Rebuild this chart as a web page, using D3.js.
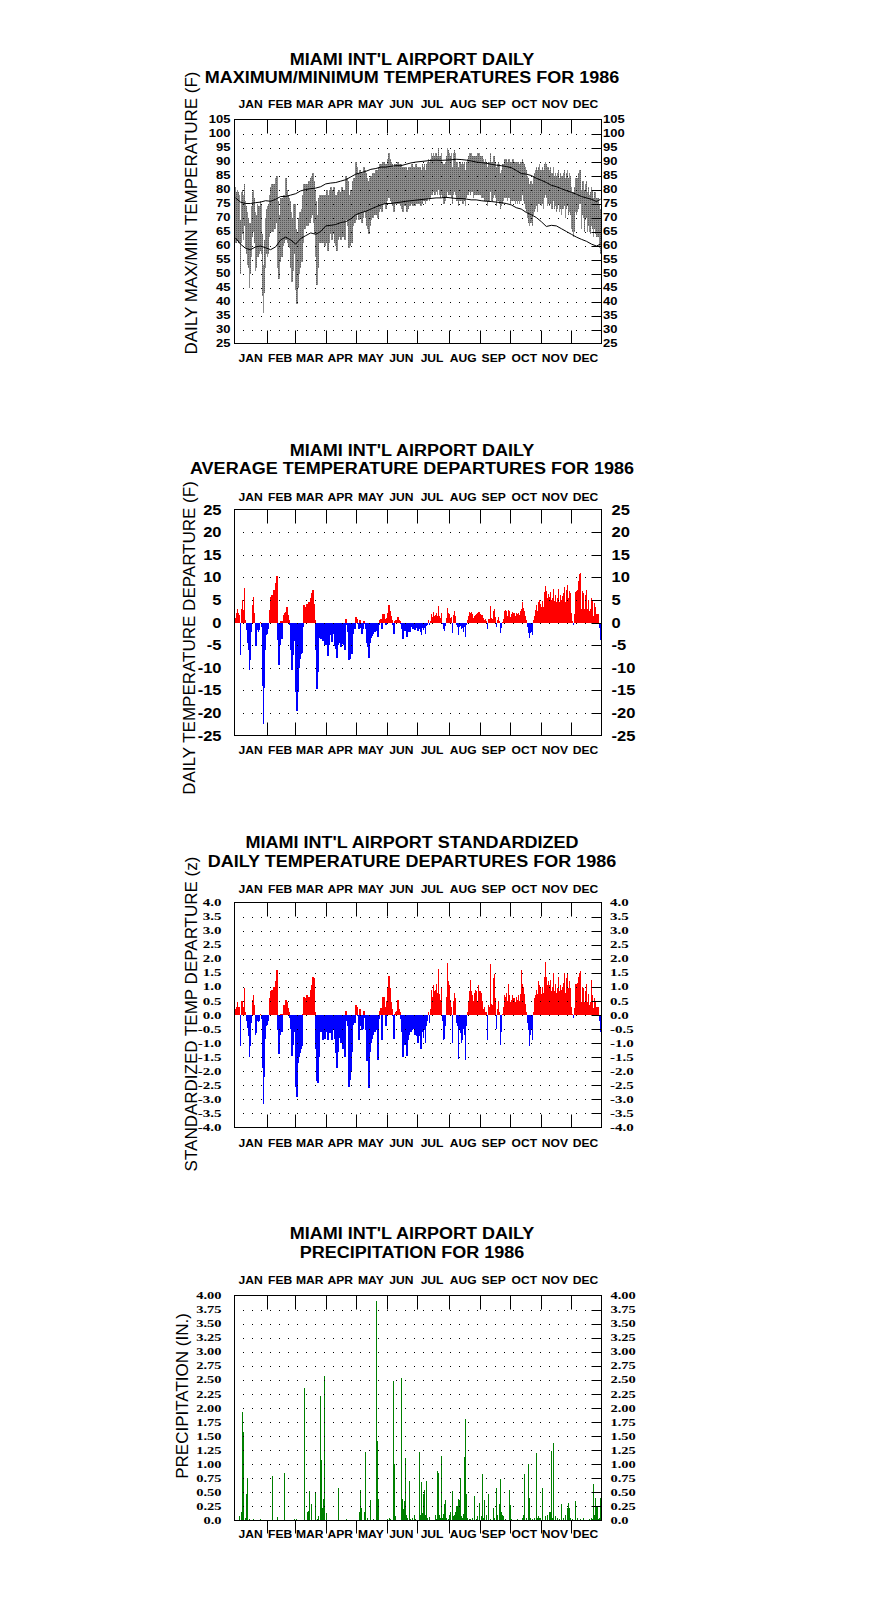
<!DOCTYPE html>
<html>
<head>
<meta charset="utf-8">
<title>Miami Int'l Airport 1986</title>
<script src="https://cdnjs.cloudflare.com/ajax/libs/d3/7.8.5/d3.min.js"></script>
<style>
  body { margin: 0; background: #fff; }
  svg text { fill: #000; }
</style>
</head>
<body>
<svg id="chart" width="876" height="1606"></svg>
<script>
const months = ['JAN', 'FEB', 'MAR', 'APR', 'MAY', 'JUN', 'JUL', 'AUG', 'SEP', 'OCT', 'NOV', 'DEC'];
const monthDays = [31, 28, 31, 30, 31, 30, 31, 31, 30, 31, 30, 31];

// daily max / min temperature (F)
const tempMax = [
  81,79,80,79,78,69,79,80,78,82,76,74,72,70,68,68,74,79,80,77,72,71,75,74,74,76,75,64,53,62,70,
  73,74,75,78,81,82,80,82,82,84,85,76,68,71,77,73,77,78,78,84,80,78,77,76,72,68,70,75,
  75,66,62,65,70,72,72,73,78,82,82,81,82,80,83,82,84,85,86,83,80,76,69,71,77,78,77,78,77,78,76,
  78,80,76,78,80,81,79,80,81,78,78,76,79,80,79,79,81,80,80,79,85,84,83,78,78,80,79,83,84,84,
  90,88,86,85,87,86,85,86,88,87,86,84,83,81,84,85,85,86,86,86,87,87,85,88,89,89,87,90,90,89,88,
  89,91,93,91,90,89,88,86,89,89,89,90,89,89,89,88,85,88,87,88,86,87,88,87,88,89,88,88,88,89,
  88,88,88,88,87,89,88,89,87,89,90,91,90,91,93,92,93,92,93,93,92,95,92,92,93,90,89,89,90,92,95,
  94,93,92,93,88,93,94,93,90,90,88,90,90,89,90,89,90,87,90,91,92,93,93,93,92,92,92,92,92,93,93,
  93,92,92,92,91,90,91,90,88,90,90,93,90,90,92,92,90,88,89,90,89,86,87,89,89,91,91,91,90,91,
  91,90,90,91,91,90,90,90,90,90,89,90,90,91,90,89,88,87,85,84,82,83,83,82,85,86,87,88,87,88,89,
  87,87,88,87,89,90,89,88,88,87,88,86,86,88,85,86,85,86,87,84,86,85,85,86,87,84,86,87,84,86,
  85,81,79,79,81,84,84,84,86,87,87,80,83,83,80,82,83,79,81,78,79,81,80,77,79,79,77,77,77,75,73
];
const tempMin = [
  61,61,62,61,61,50,61,64,62,67,59,57,53,52,45,50,56,63,65,61,51,52,56,56,57,58,57,42,36,43,52,
  57,56,57,63,65,65,65,67,66,68,71,52,48,54,59,56,60,61,62,62,63,61,60,59,52,47,51,57,
  57,44,39,45,50,52,54,54,61,67,66,67,68,67,68,68,70,71,71,68,64,56,46,52,61,63,61,62,61,62,60,
  61,63,58,61,64,65,62,64,65,61,60,58,62,63,63,62,66,63,63,62,70,69,67,59,60,61,61,67,69,68,
  69,71,71,69,72,70,68,70,72,72,70,67,66,64,67,69,70,70,71,71,71,72,70,72,73,74,72,75,75,75,73,
  76,77,78,77,76,75,74,72,75,75,75,76,75,75,74,73,72,74,74,74,72,73,74,74,75,76,74,75,74,75,
  76,75,75,74,74,75,76,76,75,76,76,77,76,77,78,78,79,78,78,79,78,80,78,77,78,77,75,75,76,77,79,
  78,78,78,77,75,78,79,78,76,76,74,76,76,76,75,75,76,74,77,78,78,79,78,79,79,77,78,78,78,78,78,
  78,78,77,77,77,76,76,76,74,76,76,79,76,76,77,78,77,74,76,76,75,73,74,75,76,77,77,77,76,77,
  77,75,76,76,76,76,75,76,75,76,75,76,76,78,76,75,73,72,70,68,67,68,68,67,71,72,73,74,72,75,75,
  75,74,75,73,77,78,77,74,75,74,75,73,73,76,73,74,72,73,75,72,73,71,73,73,74,70,73,74,71,72,
  71,66,65,63,65,72,71,72,73,75,75,66,71,70,65,69,70,65,67,65,64,67,66,63,66,64,63,63,63,59,57
];

// normal max / min, read every 5 days
const normDay = [0,5,10,15,20,25,30,35,40,45,50,55,60,65,70,75,80,85,90,95,
  100,105,110,115,120,125,130,135,140,145,150,155,160,165,170,175,180,185,190,195,
  200,205,210,215,220,225,230,235,240,245,250,255,260,265,270,275,280,285,290,295,
  300,305,310,315,320,325,330,335,340,345,350,355,360,364];
const normMax = [77,75.5,75,75,75.3,75.5,76,75.8,76.5,77.5,77.5,78,78.5,79.5,80,80.3,80.5,81,82,82.3,
  82.5,83,83.5,84.5,85.5,86,86.5,87.2,87.5,88,88,88.3,88.5,88.5,89,89.5,89.8,90,90.2,90.4,
  90.5,90.4,90.5,90.6,90.8,90.7,90.5,90.2,89.8,89.6,89.4,89,88.7,88.5,88.2,87.8,86.8,85.7,85.5,85,
  84,83.3,82.5,81.5,81,80.3,79.6,79,78.3,77.5,77,76.5,75.7,76.5];
const normMin = [62.7,60.5,59,58.5,59.5,59.8,59.2,58.5,59.5,62,63,62,60.5,62.5,63.5,64.5,64,65,67,67.2,
  67.5,68.2,68.5,69.5,71,71.7,72.2,73,73.8,74.5,75,75,75.3,75.5,75.8,76,76.2,76.4,76.6,76.8,
  77,77,77.2,77,76.8,76.8,76.6,76.3,76.3,76,75.8,75.7,75.5,75.3,75,74.5,73.5,73,71.8,71,
  70,68.5,66.8,67.2,67,66,65,64,63,62.2,61.5,60.5,59.8,60.5];

// daily average temperature departure (F)
const departure = [
  1,2,3,2,1.7,-7.3,3,5,2.8,7.7,0.5,-1.6,-4.5,-6,-10.6,-8.2,-2.2,3.9,5.7,2,-5.3,-5.3,-1.6,-2,-1.6,0.2,-0.9,-14,-22.4,-14.5,-6,
  -2.7,-2.5,-1.5,2.8,5.7,6.1,5,7.2,6.5,8.7,10.3,-3.8,-9.3,-5,0.3,-3.7,0.3,1.7,2,2.4,3.5,1.7,0.5,-0.5,-6,-10.4,-7.3,-2,
  -4,-15.3,-19.6,-15.3,-10,-8,-7,-6.8,-1,3.8,3.5,3.2,4,2.5,4.5,4,5.5,6.5,7.3,4,0.5,-6,-14.8,-11,-3.5,-2.5,-3.7,-2.8,-4,-3,-5,
  -5,-3,-7.5,-5,-2.8,-1.5,-4.3,-2.5,-2,-5.3,-5.8,-7.8,-5,-4,-4.5,-5.5,-2.5,-4.8,-5,-6,0.8,-0.5,-2.2,-8.2,-8,-6.5,-7,-2.5,-1,-1.5,
  1.2,0.8,-0.3,-1.5,0.5,-1.2,-2.5,-1.5,0.4,-0.3,-1.5,-4.5,-5.5,-7.8,-4.5,-3.5,-3,-2.5,-2,-2.2,-1.8,-1.5,-3.3,-0.5,0.5,0.8,-1.5,1.8,1.8,0.8,-0.5,
  1,2.2,3.9,2.5,1.5,0.5,-0.5,-2.5,0.3,0.5,0.3,1.2,0.5,0.3,-0.3,-1.5,-3.7,-1.2,-1.8,-1.2,-3.3,-2.2,-1.5,-2,-1,-0.3,-1.5,-1.2,-1.6,-1,
  -1.3,-1.8,-1.5,-2,-2.7,-1.3,-1.6,-1.2,-2.5,-0.8,-0.5,0.5,-0.5,0.3,1.8,1.2,2.3,1.5,1.6,2.2,1.5,3.6,1.5,1,2,-0.3,-1.5,-1.8,-0.8,1,3.2,
  2.2,1.8,1,1.3,-2.3,1.7,2.5,1.5,-0.6,-1,-2.8,-1,-0.7,-1.5,-1.3,-2,-1,-3.3,-0.5,0.5,1.5,2.4,2,2.4,1.8,1,1.5,1.6,1.8,2.2,2.4,
  2.4,1.8,1.6,1.7,1,0.5,0.7,0.3,-1.5,0.8,0.7,3.6,1,0.8,2.6,3,1.3,-1,0.5,1.2,0.3,-2.3,-1.2,0.2,0.8,2.5,2.8,2.5,1.5,2.7,
  2.5,1.3,1.8,2.3,2.2,2,1.5,2.2,1.8,2.2,1.6,2.5,3,4.5,3.3,2.5,1.5,0.5,-1,-2.3,-3.5,-2.3,-2,-2.8,0.5,1.5,2.8,3.8,2.5,4.5,5,
  4,3.5,4.7,3.5,6.7,8,7,5.5,6.2,5.7,6.8,5,5.5,7.5,4.7,6,4.5,5.5,7.5,4.6,6,5,5.8,6.5,7.8,4.5,7.3,8.3,5.5,7,
  6.5,2,0.3,-0.5,1.8,6.8,7,7.2,9.2,10.8,11,3,7,6.5,3,6,7.3,3,5,2.5,3,5.5,4.8,1.5,4.3,3.5,1.8,1.8,1.8,-1.3,-3.8
];

// standardized daily departure (z)
const zDeparture = [
  0.2,0.3,0.45,0.3,0.3,-1.1,0.5,0.5,0.3,0.95,0.1,-0.2,-0.45,-0.75,-1.5,-1.1,-0.3,0.55,0.72,0.35,-0.7,-0.65,-0.2,-0.25,-0.2,0.05,-0.15,-1.9,-3.15,-2.2,-0.85,
  -0.4,-0.35,-0.2,0.6,0.85,0.9,0.75,1,0.85,1.2,1.6,-0.55,-1.4,-0.7,0.05,-0.6,0.05,0.35,0.35,0.55,0.45,0.25,0.1,-0.1,-0.5,-1.45,-1.05,-0.3,
  -0.6,-2.55,-2.9,-1.7,-1.5,-1.35,-1.2,-1.1,0.05,0.65,0.6,0.55,0.7,0.6,0.65,0.6,0.9,1.05,1.35,1.3,0.1,-1.2,-2.35,-2.4,-1.5,-0.6,-0.5,-0.6,-0.9,-0.5,-0.85,
  -0.5,-0.6,-0.9,-0.55,-0.65,-0.45,-0.9,-0.3,-0.55,-0.85,-1.35,-1.9,-1.3,-0.8,-0.7,-1,-0.55,-1.2,-1,-1.5,0.15,-0.2,-0.4,-2.55,-2.3,-2,-1.3,-0.35,-0.2,-0.3,
  0.35,0.3,-0.05,-0.9,0.2,-0.4,-0.55,-0.5,0.15,-0.1,-0.55,-1.65,-1.65,-2.6,-1.3,-1,-0.85,-0.7,-0.55,-0.6,-0.55,-0.4,-1.6,-0.15,0.15,0.25,-0.9,0.65,0.65,0.3,-0.4,
  0.5,1,1.4,0.95,0.45,0.2,-0.05,-0.85,0.05,0.1,0.15,0.55,0.2,0.1,-0.15,-0.6,-1.5,-0.45,-1.05,-0.45,-1.45,-0.9,-0.7,-0.5,-0.6,-0.55,-0.1,-0.5,-0.7,-0.65,
  -0.75,-1,-0.75,-1.2,-1.2,-0.6,-0.8,-0.55,-1,-0.4,-0.2,0.1,-0.3,0.2,0.9,0.65,1.05,0.85,0.9,1.1,0.8,1.65,0.75,0.55,1,-0.2,-0.9,-0.85,-0.4,0.65,1.85,
  1.2,1.05,0.55,0.3,-1,0.5,0.8,0.6,-0.3,-0.4,-1.55,-0.5,-0.65,-1,-0.9,-0.5,-0.7,-1.6,-0.4,0.1,0.5,0.85,1.25,0.85,0.7,0.5,0.8,0.9,0.85,0.5,1.05,
  0.85,0.85,0.8,0.5,0.2,0.3,0.1,0.1,-0.9,0.35,0.3,1.8,0.4,0.35,1.3,1.45,0.6,-0.5,0.2,0.5,0.1,-1.05,-0.6,0.05,0.3,0.7,0.65,0.8,0.5,1.1,
  0.7,0.45,0.55,0.7,0.6,0.6,0.45,0.65,0.55,0.7,0.5,0.75,1.6,1.1,1,0.75,0.4,0.1,-0.3,-0.55,-1.1,-0.7,-0.55,-0.9,0.1,0.6,0.7,0.9,0.75,1.2,1.05,
  1,0.75,1,0.8,1.35,1.9,1.35,1.05,1.2,1.05,1.25,0.85,1,1.5,0.85,1.1,0.8,0.95,1.35,0.85,1.05,0.9,1,1.15,1.5,0.8,1.3,1.45,0.95,1.2,
  0.95,0.3,0.05,-0.1,0.25,1.1,1.1,1.15,1.35,1.5,1.55,0.45,1,0.95,0.45,0.85,1.1,0.45,0.75,0.35,0.45,1.25,0.7,0.25,0.6,0.5,0.3,0.3,0.3,-0.2,-0.6
];

// daily precipitation, [day of year (0 = Jan 1), inches]; other days 0
const rainfall = [
  [4,0.08],[6,0.15],[7,1.93],[8,1.58],[10,0.05],[11,0.48],[12,0.76],[14,0.02],[18,0.02],[25,0.02],
  [37,0.8],[42,0.07],[49,0.85],[59,0.02],[61,0.03],[69,2.35],[72,0.15],[73,0.17],[74,0.52],[76,0.3],
  [80,0.49],[82,0.03],[83,0.08],[85,2.22],[86,1.07],[87,0.23],[88,0.38],[89,2.57],[91,0.14],[103,0.57],
  [111,0.02],[124,0.15],[125,0.55],[126,0.22],[129,0.15],[130,1.22],[132,0.05],[135,0.37],[138,0.03],[141,3.9],
  [142,1.42],[143,0.38],[152,0.03],[154,0.05],[155,0.02],[158,2.48],[159,1.0],[160,0.08],[166,2.53],[167,0.38],
  [168,0.2],[169,0.35],[170,1.12],[171,0.1],[172,0.05],[174,0.71],[175,0.03],[177,0.05],[179,0.1],[180,0.02],
  [183,1.21],[184,0.1],[185,0.69],[186,0.13],[187,0.48],[188,0.55],[189,0.1],[190,0.7],[191,0.05],[193,0.07],
  [199,0.1],[200,0.02],[201,0.88],[202,0.85],[203,0.1],[204,0.05],[205,1.15],[206,0.05],[207,0.12],[208,0.3],
  [209,0.37],[210,0.05],[212,0.02],[213,0.1],[214,0.15],[216,0.53],[217,0.08],[218,0.1],[219,0.15],[220,0.25],
  [221,0.25],[222,0.39],[223,0.37],[224,0.76],[225,0.08],[226,0.05],[227,0.12],[228,1.13],[229,1.8],[230,0.48],
  [231,0.05],[233,0.03],[234,0.02],[236,0.05],[238,0.43],[240,0.03],[241,0.08],[243,0.32],[245,0.08],[246,0.83],
  [247,0.05],[248,0.37],[250,0.1],[252,0.48],[254,0.02],[257,0.22],[258,0.05],[260,0.57],[261,0.1],[263,0.3],
  [264,0.73],[265,0.15],[266,0.1],[267,0.08],[269,0.03],[273,0.54],[274,0.28],[275,0.03],[281,0.02],[286,0.05],
  [287,0.1],[288,0.82],[290,0.05],[292,1.0],[293,0.4],[294,0.05],[296,0.02],[298,0.04],[300,1.2],[301,0.05],
  [302,0.08],[303,0.05],[304,0.05],[306,0.57],[309,0.08],[311,0.1],[313,0.15],[314,0.15],[315,1.24],[316,0.05],
  [317,1.38],[319,0.08],[321,0.05],[323,0.03],[325,0.3],[327,0.05],[329,0.1],[331,0.22],[332,0.32],[333,0.22],
  [334,0.05],[336,0.03],[339,0.35],[341,0.05],[344,0.02],[347,0.05],[353,0.02],[355,0.05],[356,0.02],[357,0.65],
  [358,0.1],[359,0.4],[360,0.25],[361,0.25],[362,0.02],[363,0.05],[364,0.4]
];

// tick labels
const tempTicks = [25,30,35,40,45,50,55,60,65,70,75,80,85,90,95,100,105];
const depTicks = [-25,-20,-15,-10,-5,0,5,10,15,20,25];
const zTicks = [-4,-3.5,-3,-2.5,-2,-1.5,-1,-0.5,0,0.5,1,1.5,2,2.5,3,3.5,4];
const precipTicks = [0,0.25,0.5,0.75,1,1.25,1.5,1.75,2,2.25,2.5,2.75,3,3.25,3.5,3.75,4];
const precipTickLabels = ['0.0','0.25','0.50','0.75','1.00','1.25','1.50','1.75','2.00','2.25','2.50','2.75','3.00','3.25','3.50','3.75','4.00'];

const sans = "'Liberation Sans', Arial, Helvetica, sans-serif";
const serif = "'Liberation Serif', 'Times New Roman', serif";

const svg = d3.select('#chart');
const defs = svg.append('defs');
const stip = defs.append('pattern')
  .attr('id', 'stipple')
  .attr('patternUnits', 'userSpaceOnUse')
  .attr('width', 2).attr('height', 2);
stip.append('rect').attr('width', 2).attr('height', 2).attr('fill', '#8c8c8c');
stip.append('rect').attr('width', 1).attr('height', 1).attr('fill', '#5a5a5a');

const left = 234.5, right = 601.5;
const x = d3.scaleLinear().domain([0, 365]).range([235, 601]);
const monthStart = monthDays.map((n, i) => d3.sum(monthDays.slice(0, i)));

const panels = [
  { top: 119.5, bottom: 343.5, domain: [25, 105], ticks: tempTicks, labels: tempTicks.map(String),
    font: `bold 10px ${sans}`, sx: 1.3, labelLeft: 230.5, labelRight: 603,
    title: ["MIAMI INT'L AIRPORT DAILY", 'MAXIMUM/MINIMUM TEMPERATURES FOR 1986'], titleY: [64.5, 82.7],
    ylabel: 'DAILY MAX/MIN TEMPERATURE (F)', ylabelX: 196.7, ylabelY: 213,
    monthTop: 107.7, monthBottom: 362, tickOut: false },
  { top: 509.5, bottom: 735.5, domain: [-25, 25], ticks: depTicks, labels: depTicks.map(String),
    font: `bold 14px ${sans}`, sx: 1.18, labelLeft: 221.5, labelRight: 611.5,
    title: ["MIAMI INT'L AIRPORT DAILY", 'AVERAGE TEMPERATURE DEPARTURES FOR 1986'], titleY: [456, 474],
    ylabel: 'DAILY TEMPERATURE DEPARTURE (F)', ylabelX: 195, ylabelY: 638,
    monthTop: 500.5, monthBottom: 754, tickOut: false },
  { top: 902.5, bottom: 1127.5, domain: [-4, 4], ticks: zTicks, labels: zTicks.map(v => v.toFixed(1)),
    font: `bold 10px ${serif}`, sx: 1.5, labelLeft: 221.5, labelRight: 610,
    title: ["MIAMI INT'L AIRPORT STANDARDIZED", 'DAILY TEMPERATURE DEPARTURES FOR 1986'], titleY: [847.7, 866.7],
    ylabel: 'STANDARDIZED TEMP DEPARTURE (z)', ylabelX: 196.7, ylabelY: 1014,
    monthTop: 893.3, monthBottom: 1146.7, tickOut: false },
  { top: 1295.5, bottom: 1520.5, domain: [0, 4], ticks: precipTicks, labels: precipTickLabels,
    font: `bold 10px ${serif}`, sx: 1.45, labelLeft: 221.5, labelRight: 610.5,
    title: ["MIAMI INT'L AIRPORT DAILY", 'PRECIPITATION FOR 1986'], titleY: [1239.3, 1258.3],
    ylabel: 'PRECIPITATION (IN.)', ylabelX: 188.3, ylabelY: 1396,
    monthTop: 1284.3, monthBottom: 1538.3, tickOut: true }
];

panels.forEach(p => {
  p.y = d3.scaleLinear().domain(p.domain).range([p.bottom, p.top]);
  p.g = svg.append('g');
});

function stretched(g, px, py, str, anchor, font, sx, dy) {
  g.append('text')
    .attr('transform', `translate(${px},${py}) scale(${sx},1)`)
    .attr('text-anchor', anchor)
    .attr('dy', dy)
    .style('font', font)
    .text(str);
}

// ---- data marks ----
const dayIdx = d3.range(365);

// panel 1: max/min bars + normals
const p1 = panels[0];
p1.g.selectAll('rect.day')
  .data(dayIdx)
  .enter().append('rect')
  .attr('class', 'day')
  .attr('x', d => x(d))
  .attr('width', d => x(d + 1) - x(d) + 0.4)
  .attr('y', d => p1.y(tempMax[d]))
  .attr('height', d => p1.y(tempMin[d]) - p1.y(tempMax[d]))
  .attr('fill', 'url(#stipple)')
  .attr('shape-rendering', 'crispEdges');

const normLine = vals => d3.line()
  .x((d, i) => x(normDay[i] + 0.5))
  .y(d => p1.y(d))(vals);
[normMax, normMin].forEach(vals => {
  p1.g.append('path')
    .attr('d', normLine(vals))
    .attr('fill', 'none')
    .attr('stroke', '#000')
    .attr('stroke-width', 1);
});

// panels 2 & 3: departure bars
[[panels[1], departure], [panels[2], zDeparture]].forEach(([p, vals]) => {
  p.g.selectAll('rect.dep')
    .data(dayIdx)
    .enter().append('rect')
    .attr('class', 'dep')
    .attr('x', d => x(d))
    .attr('width', d => x(d + 1) - x(d) + 0.4)
    .attr('y', d => Math.min(p.y(0), p.y(vals[d])))
    .attr('height', d => Math.abs(p.y(vals[d]) - p.y(0)))
    .attr('fill', d => vals[d] >= 0 ? '#ff0000' : '#0000ff')
    .attr('shape-rendering', 'crispEdges');
});

// panel 4: precipitation
const p4 = panels[3];
p4.g.selectAll('rect.rain')
  .data(rainfall)
  .enter().append('rect')
  .attr('class', 'rain')
  .attr('x', d => x(d[0]))
  .attr('width', 1)
  .attr('y', d => p4.y(d[1]))
  .attr('height', d => p4.y(0) - p4.y(d[1]))
  .attr('fill', '#008000')
  .attr('shape-rendering', 'crispEdges');

// ---- frames, grids, labels ----
panels.forEach(p => {
  const g = p.g;
  const inner = p.ticks.filter(v => v !== p.domain[0] && v !== p.domain[1]);
  const yy = v => Math.round(p.y(v)) + 0.5;

  g.selectAll('line.grid')
    .data(inner)
    .enter().append('line')
    .attr('x1', 243).attr('x2', right - 10)
    .attr('y1', yy).attr('y2', yy)
    .attr('stroke', '#000')
    .attr('stroke-dasharray', '1,8');

  g.selectAll('line.rtick')
    .data(inner)
    .enter().append('line')
    .attr('x1', right - 10).attr('x2', right)
    .attr('y1', yy).attr('y2', yy)
    .attr('stroke', '#000');

  const mx = s => Math.round(x(s + 1)) + 0.5;
  g.selectAll('line.mtop')
    .data(monthStart.slice(1))
    .enter().append('line')
    .attr('x1', mx).attr('x2', mx)
    .attr('y1', p.top).attr('y2', p.top + 14)
    .attr('stroke', '#000');
  g.selectAll('line.mbot')
    .data(monthStart.slice(1))
    .enter().append('line')
    .attr('x1', mx).attr('x2', mx)
    .attr('y1', p.bottom).attr('y2', p.tickOut ? p.bottom + 13 : p.bottom - 13)
    .attr('stroke', '#000');

  g.append('rect')
    .attr('x', left).attr('y', p.top)
    .attr('width', right - left).attr('height', p.bottom - p.top)
    .attr('fill', 'none').attr('stroke', '#000');

  p.ticks.forEach((v, i) => {
    stretched(g, p.labelLeft, p.y(v), p.labels[i], 'end', p.font, p.sx, '0.36em');
    stretched(g, p.labelRight, p.y(v), p.labels[i], 'start', p.font, p.sx, '0.36em');
  });

  months.forEach((m, i) => {
    const cx = x(monthStart[i] + monthDays[i] / 2);
    [p.monthTop, p.monthBottom].forEach(by => {
      stretched(g, cx, by, m, 'middle', `bold 11px ${sans}`, 1.1, 0);
    });
  });

  p.title.forEach((t, i) => {
    stretched(g, 412, p.titleY[i], t, 'middle', `bold 17px ${sans}`, 1.06, 0);
  });

  g.append('text')
    .attr('transform', `translate(${p.ylabelX},${p.ylabelY}) rotate(-90)`)
    .attr('text-anchor', 'middle')
    .style('font', `17px ${sans}`)
    .text(p.ylabel);
});
</script>
</body>
</html>
